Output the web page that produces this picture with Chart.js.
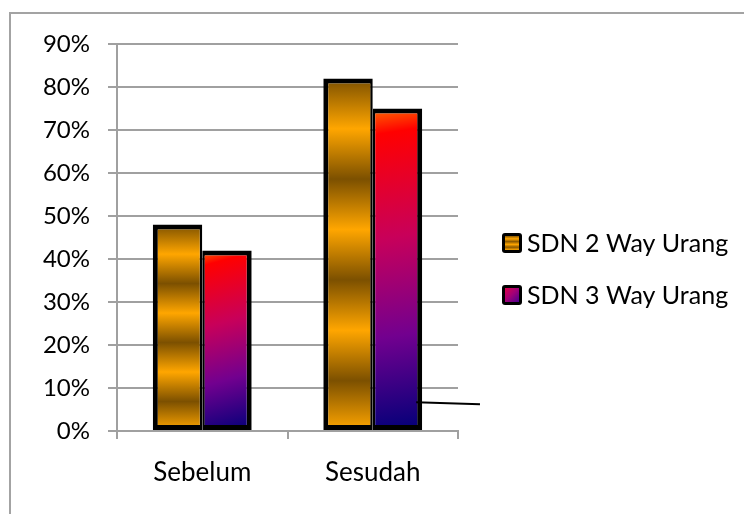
<!DOCTYPE html>
<html>
<head>
<meta charset="utf-8">
<script src="https://cdn.jsdelivr.net/npm/chart.js@4/dist/chart.umd.min.js"></script>
<style>
  html, body { margin: 0; padding: 0; background: #fff; }
  #wrap { position: relative; width: 744px; height: 514px; overflow: hidden; }
  #frame { position: absolute; left: 9px; top: 12px; width: 900px; height: 700px;
           border-left: 2px solid #a3a3a3; border-top: 2px solid #a3a3a3; }
  #c { position: absolute; left: 0; top: 0; }
</style>
</head>
<body>
<div id="wrap">
  <div id="frame"></div>
  <canvas id="c" width="744" height="514"></canvas>
</div>
<script>
// Categories, series and axis settings
const categories = ['Sebelum', 'Sesudah'];
const seriesNames = ['SDN 2 Way Urang', 'SDN 3 Way Urang'];
const sdn2Values = [0.48, 0.82];
const sdn3Values = [0.42, 0.75];
const yMax = 0.9;
const yStep = 0.1;

const FONT = 'Lato, "Open Sans", "DejaVu Sans", sans-serif';
const GRID = '#a0a0a0';

// Bronze stripes: alternating orange / dark brown bands from base to top
function stripeGradient(g, x0, top, bottom) {
  const grad = g.createLinearGradient(x0, bottom, x0, top);
  const n = 7;
  for (let i = 0; i <= n; i++) {
    grad.addColorStop(i / n, i % 2 === 0 ? '#FFA600' : '#7C5000');
  }
  return grad;
}

// Sunset fill: orange-red at the top through crimson and purple to navy
function sunsetGradient(g, left, right, top, bottom) {
  const grad = g.createLinearGradient(left, top, right, bottom);
  grad.addColorStop(0.00, '#FF6A00');
  grad.addColorStop(0.08, '#FF0000');
  grad.addColorStop(0.40, '#C8005A');
  grad.addColorStop(0.70, '#72008F');
  grad.addColorStop(1.00, '#000078');
  return grad;
}

function barBounds(ctx) {
  const chart = ctx.chart;
  const ys = chart.scales.y;
  const xs = chart.scales.x;
  if (!ys || !xs || !chart.chartArea) return null;
  const v = ctx.raw;
  const top = ys.getPixelForValue(v);
  const bottom = ys.getPixelForValue(0);
  const cx = xs.getPixelForValue(ctx.dataIndex);
  const cat = Math.abs(xs.getPixelForValue(1) - xs.getPixelForValue(0));
  const w = cat * 0.58 / 2;
  const left = ctx.datasetIndex === 0 ? cx - w : cx;
  return { left, right: left + w, top, bottom };
}

const bronzeFill = (ctx) => {
  const b = barBounds(ctx);
  if (!b) return '#D08A00';
  return stripeGradient(ctx.chart.ctx, b.left, b.top, b.bottom);
};
const sunsetFill = (ctx) => {
  const b = barBounds(ctx);
  if (!b) return '#B0006A';
  return sunsetGradient(ctx.chart.ctx, b.left, b.right, b.top, b.bottom);
};

// Legend drawn beside the plot, with gradient swatches
const sideLegend = {
  id: 'sideLegend',
  afterDraw(chart) {
    const g = chart.ctx;
    const area = chart.chartArea;
    const x = area.right + 44;
    const rows = [243, 295];
    const size = 20;
    chart.data.datasets.forEach((ds, i) => {
      const cy = rows[i];
      const top = cy - size / 2;
      g.save();
      g.fillStyle = '#000';
      g.beginPath();
      g.roundRect(x, top, size, size, 3);
      g.fill();
      const ix = x + 3, iy = top + 3, s = size - 6;
      if (i === 0) {
        const grad = g.createLinearGradient(ix, iy + s, ix, iy);
        const n = 5;
        for (let k = 0; k <= n; k++) grad.addColorStop(k / n, k % 2 === 0 ? '#FFA600' : '#8A5800');
        g.fillStyle = grad;
      } else {
        const grad = g.createLinearGradient(ix, iy, ix + s, iy + s);
        grad.addColorStop(0, '#E0004A');
        grad.addColorStop(0.5, '#A00078');
        grad.addColorStop(1, '#4A0090');
        g.fillStyle = grad;
      }
      g.fillRect(ix, iy, s, s);
      g.fillStyle = '#000';
      g.font = '25px ' + FONT;
      g.textBaseline = 'middle';
      g.textAlign = 'left';
      g.fillText(ds.label, x + size + 5, cy + 1);
      g.restore();
    });
  }
};

// Thin black leader line running out from the right-hand bar
const leaderLine = {
  id: 'leaderLine',
  afterDatasetsDraw(chart) {
    const bar = chart.getDatasetMeta(1).data[1];
    const ys = chart.scales.y;
    const g = chart.ctx;
    const y1 = ys.getPixelForValue(0.067);
    g.save();
    g.strokeStyle = '#000';
    g.lineWidth = 2;
    g.beginPath();
    g.moveTo(bar.x + bar.width / 2 - 6, y1);
    g.lineTo(chart.chartArea.right + 22, y1 + 2);
    g.stroke();
    g.restore();
  }
};

new Chart(document.getElementById('c'), {
  type: 'bar',
  data: {
    labels: categories,
    datasets: [
      {
        label: seriesNames[0],
        data: sdn2Values,
        backgroundColor: bronzeFill,
        borderColor: '#000',
        borderWidth: { top: 5, left: 5, bottom: 5, right: 2.5 },
        borderSkipped: false
      },
      {
        label: seriesNames[1],
        data: sdn3Values,
        backgroundColor: sunsetFill,
        borderColor: '#000',
        borderWidth: { top: 5, left: 2.5, bottom: 5, right: 5 },
        borderSkipped: false
      }
    ]
  },
  options: {
    responsive: false,
    animation: false,
    devicePixelRatio: 1,
    categoryPercentage: 0.58,
    barPercentage: 1,
    layout: { padding: { left: 42, right: 286, top: 44, bottom: 0 } },
    plugins: {
      legend: { display: false },
      tooltip: { enabled: false }
    },
    scales: {
      x: {
        afterFit: (s) => { s.height = 83; },
        grid: {
          drawOnChartArea: false, drawTicks: true, tickLength: 8,
          color: GRID, lineWidth: 2, offset: true
        },
        border: { display: true, color: GRID, width: 2 },
        ticks: { color: '#000', font: { family: FONT, size: 26 }, padding: 18 }
      },
      y: {
        min: 0,
        max: yMax,
        afterFit: (s) => { s.width = 75; },
        grid: { color: GRID, lineWidth: 2, drawTicks: true, tickLength: 9 },
        border: { display: true, color: GRID, width: 2 },
        ticks: {
          stepSize: yStep,
          color: '#000',
          font: { family: FONT, size: 24 },
          padding: 18,
          callback: (v) => Math.round(v * 100) + '%'
        }
      }
    }
  },
  plugins: [leaderLine, sideLegend]
});
</script>
</body>
</html>
